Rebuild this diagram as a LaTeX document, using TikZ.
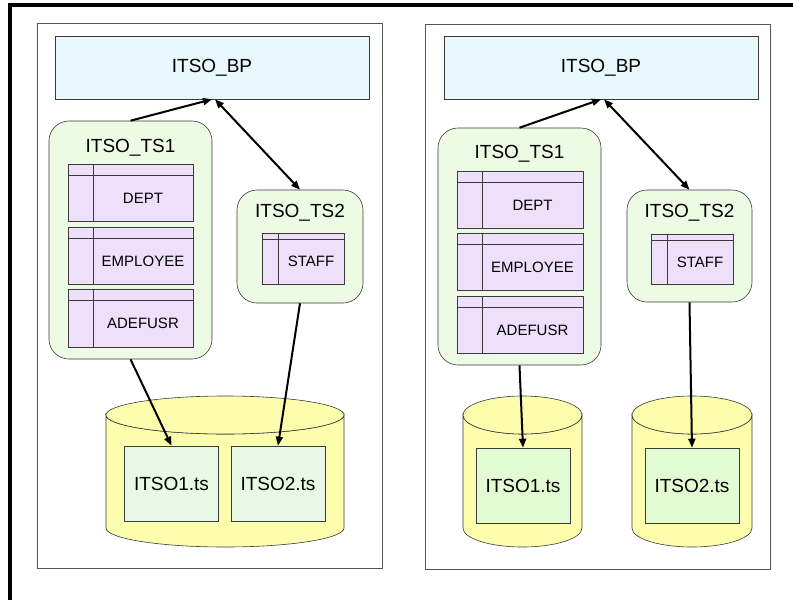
\documentclass[tikz,border=0pt]{standalone}
\usepackage{fontspec}
\setmainfont{Liberation Sans}
\usetikzlibrary{arrows.meta}
\definecolor{Edge}{HTML}{3A3A3A}
\definecolor{PanelEdge}{HTML}{555555}
\definecolor{PoolCyan}{HTML}{E8F8FC}
\definecolor{SpaceGreen}{HTML}{EDFBE4}
\definecolor{TablePurple}{HTML}{EEE0FB}
\definecolor{DiskYellow}{HTML}{FDFDAE}
\definecolor{FileGreen}{HTML}{E8F9E6}
\definecolor{FileLime}{HTML}{E2FBD2}
\tikzset{
  panel/.style={draw=PanelEdge, fill=white, thin},
  pool/.style={draw=Edge, fill=PoolCyan, semithick,
    minimum width=314pt, minimum height=63pt,
    font=\fontsize{19}{22}\selectfont},
  space/.style={draw=Edge, fill=SpaceGreen, semithick, rounded corners=20pt},
  title/.style={inner sep=0pt, font=\fontsize{19}{22}\selectfont},
  table/.style 2 args={
    draw=Edge, fill=TablePurple, semithick,
    path picture={
      \draw[Edge] ([xshift=#1]path picture bounding box.north west)
        -- ([xshift=#1]path picture bounding box.south west);
      \draw[Edge] ([yshift=-#2]path picture bounding box.north west)
        -- ([yshift=-#2]path picture bounding box.north east);
    }
  },
  tabletext/.style={inner sep=0pt, font=\fontsize{15}{18}\selectfont},
  disk/.style={draw=Edge, fill=DiskYellow, semithick},
  file/.style={draw=Edge, semithick, minimum width=94pt, minimum height=75pt,
    font=\fontsize{19}{22}\selectfont},
  link/.style={-{Triangle[length=9pt,width=7pt]}, line width=2pt, draw=black},
  duplex/.style={{Triangle[length=9pt,width=7pt]}-{Triangle[length=9pt,width=7pt]},
    line width=2pt, draw=black}
}
\begin{document}
\begin{tikzpicture}[x=1pt,y=-1pt]
  \useasboundingbox (0,0) rectangle (793,600);
  \draw[line width=4pt] (9.5,600) -- (9.5,4.5) -- (793,4.5);

  % left panel
  \node[panel, minimum width=345pt, minimum height=545pt] (panelL) at (209.5,295.5) {};
  \node[pool] (bpL) at (212,67.5) {ITSO\_BP};
  \node[space, minimum width=163pt, minimum height=238pt] (ts1L) at (130.5,240) {};
  \node[title] (ts1Ltitle) at (130.5,148) {ITSO\_TS1};
  \node[table={25pt}{11pt}, minimum width=125pt, minimum height=57pt] (deptL) at (130.5,192.5) {};
  \node[tabletext] (deptLtext) at ([xshift=12.5pt,yshift=-5.5pt]deptL.center) {DEPT};
  \node[table={25pt}{11pt}, minimum width=125pt, minimum height=57pt] (empL) at (130.5,255.5) {};
  \node[tabletext] (empLtext) at ([xshift=12.5pt,yshift=-5.5pt]empL.center) {EMPLOYEE};
  \node[table={25pt}{11pt}, minimum width=125pt, minimum height=58pt] (adeL) at (130.5,318) {};
  \node[tabletext] (adeLtext) at ([xshift=12.5pt,yshift=-5.5pt]adeL.center) {ADEFUSR};
  \node[space, minimum width=126pt, minimum height=113pt] (ts2L) at (300,246.5) {};
  \node[title] (ts2Ltitle) at (300,213) {ITSO\_TS2};
  \node[table={16pt}{6pt}, minimum width=82pt, minimum height=51pt] (staffL) at (303,258.5) {};
  \node[tabletext] (staffLtext) at ([xshift=8pt,yshift=-3pt]staffL.center) {STAFF};
  \filldraw[disk] (106,415) -- (106,528) arc[start angle=180, end angle=0, x radius=119, y radius=19]
    -- (344,415) arc[start angle=0, end angle=180, x radius=119, y radius=19] -- cycle;
  \filldraw[disk] (225,415) ellipse [x radius=119, y radius=19];
  \node[file, fill=FileGreen] (f1L) at (171.5,483.5) {ITSO1.ts};
  \node[file, fill=FileGreen] (f2L) at (278,483.5) {ITSO2.ts};
  \draw[link] (ts1L.north) -- (bpL.south);
  \draw[duplex] ([xshift=3pt]bpL.south) -- (ts2L.north);
  \draw[link] (ts1L.south) -- (f1L.north);
  \draw[link] (ts2L.south) -- (f2L.north);

  % right panel
  \node[panel, minimum width=345pt, minimum height=545pt] (panelR) at (597.5,296.5) {};
  \node[pool] (bpR) at (601,67.5) {ITSO\_BP};
  \node[space, minimum width=163pt, minimum height=237pt] (ts1R) at (519.5,246.5) {};
  \node[title] (ts1Rtitle) at (519.5,154) {ITSO\_TS1};
  \node[table={25pt}{11pt}, minimum width=126pt, minimum height=57pt] (deptR) at (520,199.5) {};
  \node[tabletext] (deptRtext) at ([xshift=12.5pt,yshift=-5.5pt]deptR.center) {DEPT};
  \node[table={25pt}{11pt}, minimum width=126pt, minimum height=57pt] (empR) at (520,261.5) {};
  \node[tabletext] (empRtext) at ([xshift=12.5pt,yshift=-5.5pt]empR.center) {EMPLOYEE};
  \node[table={25pt}{11pt}, minimum width=126pt, minimum height=57pt] (adeR) at (520,324.5) {};
  \node[tabletext] (adeRtext) at ([xshift=12.5pt,yshift=-5.5pt]adeR.center) {ADEFUSR};
  \node[space, minimum width=125pt, minimum height=112pt] (ts2R) at (689.5,246) {};
  \node[title] (ts2Rtitle) at (689.5,213) {ITSO\_TS2};
  \node[table={16pt}{6pt}, minimum width=82pt, minimum height=50pt] (staffR) at (692,259) {};
  \node[tabletext] (staffRtext) at ([xshift=8pt,yshift=-3pt]staffR.center) {STAFF};
  \filldraw[disk] (463,415) -- (463,528) arc[start angle=180, end angle=0, x radius=59.5, y radius=19]
    -- (582,415) arc[start angle=0, end angle=180, x radius=59.5, y radius=19] -- cycle;
  \filldraw[disk] (522.5,415) ellipse [x radius=59.5, y radius=19];
  \filldraw[disk] (632,415) -- (632,528) arc[start angle=180, end angle=0, x radius=60, y radius=19]
    -- (752,415) arc[start angle=0, end angle=180, x radius=60, y radius=19] -- cycle;
  \filldraw[disk] (692,415) ellipse [x radius=60, y radius=19];
  \node[file, fill=FileLime] (f1R) at (523,485.5) {ITSO1.ts};
  \node[file, fill=FileLime] (f2R) at (692,485.5) {ITSO2.ts};
  \draw[link] (ts1R.north) -- (bpR.south);
  \draw[duplex] ([xshift=3pt]bpR.south) -- (ts2R.north);
  \draw[link] (ts1R.south) -- (f1R.north);
  \draw[link] (ts2R.south) -- (f2R.north);
\end{tikzpicture}
\end{document}
